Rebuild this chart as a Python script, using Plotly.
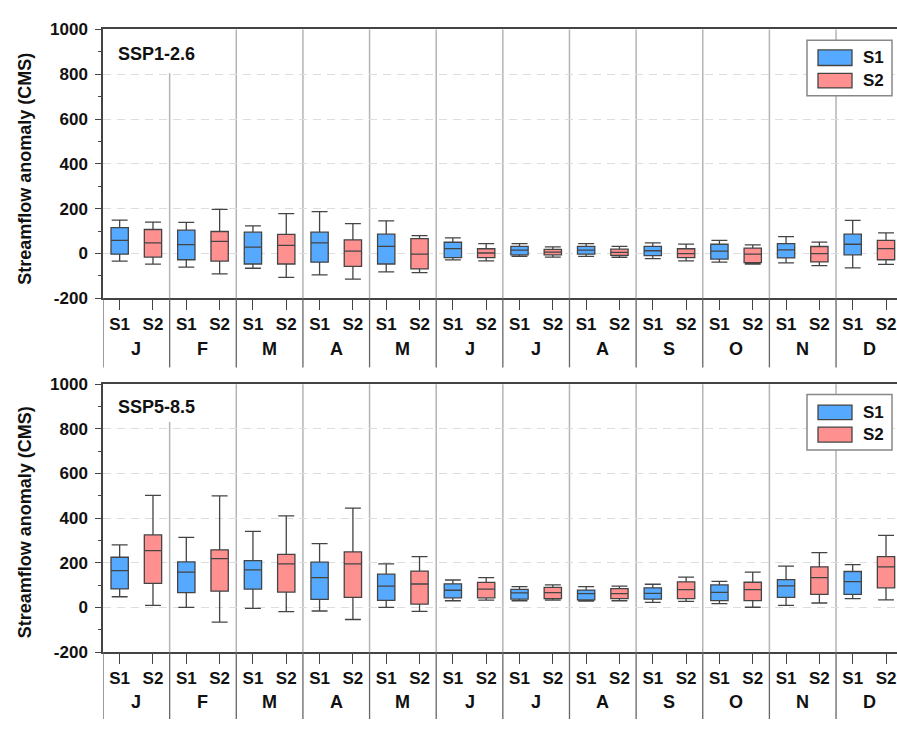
import plotly.graph_objects as go

months = ["J", "F", "M", "A", "M", "J", "J", "A", "S", "O", "N", "D"]
series = ["S1", "S2"]
panel_titles = ["SSP1-2.6", "SSP5-8.5"]
y_ticks = [-200, 0, 200, 400, 600, 800, 1000]
y_ticktext = ["-200", "0", "200", "400", "600", "800", "1000"]

# ---- SSP1-2.6 ----
ssp126_s1_hi  = [149, 139, 123, 187, 145, 70, 44, 44, 47, 58, 75, 148]
ssp126_s1_q3  = [115, 104, 95, 95, 86, 50, 32, 32, 32, 41, 44, 86]
ssp126_s1_med = [58, 39, 28, 47, 32, 22, 15, 15, 12, 10, 16, 41]
ssp126_s1_q1  = [-3, -28, -47, -39, -47, -19, -6, -3, -10, -25, -20, -6]
ssp126_s1_lo  = [-34, -61, -66, -96, -82, -29, -13, -13, -23, -39, -42, -64]

ssp126_s2_hi  = [140, 197, 178, 133, 80, 44, 29, 32, 42, 38, 51, 92]
ssp126_s2_q3  = [107, 98, 85, 61, 66, 21, 18, 19, 21, 24, 31, 58]
ssp126_s2_med = [47, 54, 36, 10, -3, 2, 6, 5, -1, -3, -1, 22]
ssp126_s2_q1  = [-16, -34, -47, -58, -69, -19, -6, -9, -19, -41, -38, -28]
ssp126_s2_lo  = [-48, -91, -107, -115, -86, -33, -16, -17, -33, -47, -54, -49]

# ---- SSP5-8.5 ----
ssp585_s1_hi  = [280, 314, 341, 286, 195, 123, 93, 93, 104, 117, 185, 192]
ssp585_s1_q3  = [225, 204, 210, 203, 149, 106, 81, 78, 88, 101, 125, 161]
ssp585_s1_med = [165, 158, 168, 134, 96, 77, 65, 62, 63, 68, 97, 116]
ssp585_s1_q1  = [83, 66, 82, 36, 32, 43, 37, 34, 37, 31, 45, 59]
ssp585_s1_lo  = [48, 0, -4, -16, 0, 30, 30, 28, 23, 17, 9, 40]

ssp585_s2_hi  = [502, 500, 410, 445, 228, 134, 101, 96, 136, 158, 246, 323]
ssp585_s2_q3  = [325, 258, 238, 249, 163, 112, 90, 84, 115, 113, 182, 228]
ssp585_s2_med = [255, 219, 195, 195, 105, 82, 66, 62, 80, 80, 134, 182]
ssp585_s2_q1  = [108, 73, 69, 45, 15, 43, 40, 40, 40, 31, 59, 88]
ssp585_s2_lo  = [9, -66, -19, -54, -18, 33, 33, 30, 27, 1, 20, 34]

panels = [
    [(ssp126_s1_lo, ssp126_s1_q1, ssp126_s1_med, ssp126_s1_q3, ssp126_s1_hi),
     (ssp126_s2_lo, ssp126_s2_q1, ssp126_s2_med, ssp126_s2_q3, ssp126_s2_hi)],
    [(ssp585_s1_lo, ssp585_s1_q1, ssp585_s1_med, ssp585_s1_q3, ssp585_s1_hi),
     (ssp585_s2_lo, ssp585_s2_q1, ssp585_s2_med, ssp585_s2_q3, ssp585_s2_hi)],
]

W, H = 897, 729
ML = 103
FONT = "Liberation Sans, Arial, sans-serif"
colors = ["#55AAFF", "#FF9090"]
edge = "#444444"
offsets = [0.25, 0.75]

def py(p):
    return 1 - p / H

def px(p):
    return (p - ML) / (W - ML)

geo = [
    dict(top=21, bot=297, sepbot=368, firsttop=66, label=46, month=349, title=164,
         leg=(807, 892, 32, 89), sw=[(42, 58), (66, 81)]),
    dict(top=385.3, bot=660.3, sepbot=729, firsttop=424, label=409, month=711.5, title=527,
         leg=(807, 892, 395.7, 452.7), sw=[(406.7, 421.7), (429.3, 444.7)]),
]

fig = go.Figure()
shapes = []
annotations = []
xrange_max = (W - ML) / 66.64

for p, panel in enumerate(panels):
    xa = "x" if p == 0 else "x2"
    ya = "y" if p == 0 else "y2"
    for s, stats in enumerate(panel):
        lo, q1, med, q3, hi = stats
        fig.add_trace(go.Box(
            x=[i + offsets[s] for i in range(len(months))],
            lowerfence=lo, q1=q1, median=med, q3=q3, upperfence=hi,
            name=series[s], xaxis=xa, yaxis=ya,
            fillcolor=colors[s], line=dict(color=edge, width=1.3),
            width=0.26, whiskerwidth=0.92, boxpoints=False,
            showlegend=False, hoverinfo="skip",
        ))
    g = geo[p]
    for i in range(1, len(months)):
        y1 = py(g["firsttop"]) if i == 1 else py(g["top"])
        shapes.append(dict(type="line", xref=xa, yref="paper", x0=i, x1=i,
                           y0=py(g["bot"]), y1=y1, line=dict(color="#b4b4b4", width=1.5), layer="below"))
    for i in range(0, len(months)):
        shapes.append(dict(type="line", xref=xa, yref="paper", x0=i, x1=i,
                           y0=py(g["sepbot"]), y1=py(g["bot"]), line=dict(color="#666666", width=1.3)))
    for i, m in enumerate(months):
        annotations.append(dict(x=i + 0.5, y=py(g["month"]), xref=xa, yref="paper",
                                text=m, showarrow=False, xanchor="center", yanchor="middle",
                                font=dict(family=FONT, size=18, color="#111", weight="bold")))
    annotations.append(dict(x=px(116), y=py(g["label"]), xref="paper", yref="paper",
                            text=panel_titles[p], showarrow=False, xanchor="left", yanchor="middle",
                            font=dict(family=FONT, size=18, color="#111", weight="bold")))
    annotations.append(dict(x=px(25), y=py(g["title"]), xref="paper", yref="paper",
                            text="Streamflow anomaly (CMS)", showarrow=False, textangle=-90,
                            xanchor="center", yanchor="middle",
                            font=dict(family=FONT, size=18, color="#111", weight="bold")))
    lx0, lx1, ly0, ly1 = g["leg"]
    shapes.append(dict(type="rect", xref="paper", yref="paper", x0=px(lx0), x1=px(lx1),
                       y0=py(ly1), y1=py(ly0), line=dict(color="#888888", width=1.5),
                       fillcolor="white"))
    for s in range(2):
        sy0, sy1 = g["sw"][s]
        shapes.append(dict(type="rect", xref="paper", yref="paper", x0=px(818), x1=px(852),
                           y0=py(sy1), y1=py(sy0), line=dict(color=edge, width=1.3),
                           fillcolor=colors[s]))
        annotations.append(dict(x=px(861), y=py((sy0 + sy1) / 2), xref="paper", yref="paper",
                                text=series[s], showarrow=False, xanchor="left", yanchor="middle",
                                font=dict(family=FONT, size=17, color="#111", weight="bold")))

tickvals = [i + o for i in range(len(months)) for o in offsets]
ticktext = [series[k] for i in range(len(months)) for k in range(2)]

def xaxis(anchor):
    return dict(range=[0, xrange_max], tickvals=tickvals, ticktext=ticktext,
                ticks="outside", ticklen=10, tickwidth=1.3, tickcolor="#444",
                tickfont=dict(family=FONT, size=17, color="#111", weight="bold"),
                showline=True, linecolor="#444", linewidth=1.5, mirror=True,
                showgrid=False, zeroline=False, anchor=anchor, fixedrange=True)

def yaxis(domain, anchor):
    return dict(domain=domain, range=[-200, 1000], tickvals=y_ticks, ticktext=y_ticktext,
                ticks="outside", ticklen=6, tickwidth=1.3, tickcolor="#444",
                minor=dict(dtick=100, ticks="outside", ticklen=3, tickcolor="#444", showgrid=False),
                tickfont=dict(family=FONT, size=17, color="#111", weight="bold"),
                ticklabelstandoff=4,
                showline=True, linecolor="#444", linewidth=1.5,
                showgrid=True, gridcolor="#dddddd", griddash="8px,6px", gridwidth=1.2,
                zeroline=False, anchor=anchor)

fig.update_layout(
    width=W, height=H,
    margin=dict(l=ML, r=0, t=0, b=0),
    paper_bgcolor="white", plot_bgcolor="white",
    boxmode="overlay",
    xaxis=xaxis("y"),
    yaxis=yaxis([py(297), py(21)], "x"),
    xaxis2=xaxis("y2"),
    yaxis2=yaxis([py(660.3), py(385.3)], "x2"),
    shapes=shapes, annotations=annotations,
    showlegend=False,
)

fig.write_html("out.html")
